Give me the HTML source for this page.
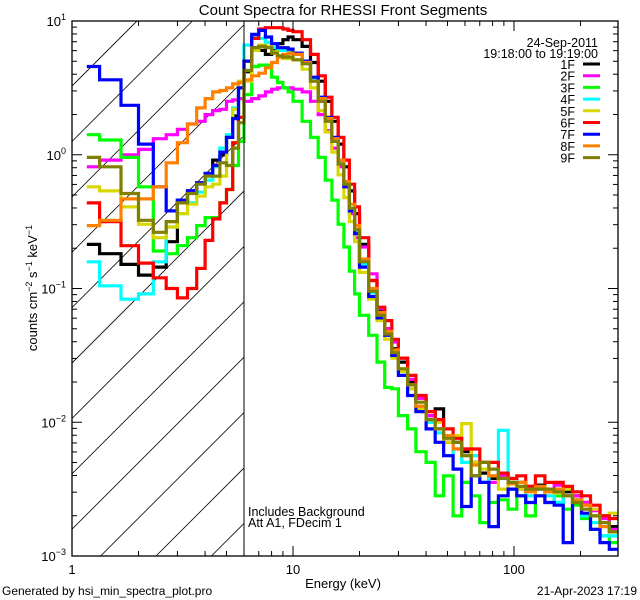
<!DOCTYPE html>
<html><head><meta charset="utf-8"><style>
html,body{margin:0;padding:0;background:#fff;}
svg{display:block;font-family:"Liberation Sans",sans-serif;}
</style></head><body>
<svg id="chart" width="640" height="600" viewBox="0 0 640 600" xmlns="http://www.w3.org/2000/svg">
<defs>
<clipPath id="hatchclip"><rect x="72" y="21" width="172" height="535"/></clipPath>
<clipPath id="plotclip"><rect x="72" y="21" width="546" height="535"/></clipPath>
</defs>
<rect width="640" height="600" fill="#fff"/>
<text x="343" y="15" font-size="15" text-anchor="middle">Count Spectra for RHESSI Front Segments</text>
<g id="hatch" clip-path="url(#hatchclip)"></g>
<g id="series" clip-path="url(#plotclip)"></g>
<line x1="244" y1="21" x2="244" y2="556" stroke="#000" stroke-width="1"/>
<rect x="72" y="21" width="546" height="535" fill="none" stroke="#000" stroke-width="1.3"/>
<g id="axes"></g>
<text x="343" y="588" font-size="13" text-anchor="middle">Energy (keV)</text>
<text transform="translate(37,288) rotate(-90)" font-size="13" text-anchor="middle">counts cm<tspan dy="-5" font-size="9">−2</tspan><tspan dy="5"> s</tspan><tspan dy="-5" font-size="9">−1</tspan><tspan dy="5"> keV</tspan><tspan dy="-5" font-size="9">−1</tspan></text>
<text x="248" y="516" font-size="12.5">Includes Background</text>
<text x="248" y="527" font-size="12.5">Att A1, FDecim 1</text>
<text x="2" y="595" font-size="12">Generated by hsi_min_spectra_plot.pro</text>
<text x="637" y="595" font-size="12" text-anchor="end">21-Apr-2023 17:19</text>
<g id="legend">
<text x="598" y="47" font-size="12.5" text-anchor="end">24-Sep-2011</text>
<text x="598" y="58" font-size="12.5" text-anchor="end">19:18:00 to 19:19:00</text>
</g>
</svg>
<script>
const energyEdges = [1.167,1.333,1.667,2,2.333,2.667,3,3.333,3.667,4,4.333,4.667,5,5.333,5.667,6,
6.5,7,7.5,8,8.5,9,9.5,10,11,12,13,14,15,16,17,18,19,20,22,24,26,28,30,
33,36,40,44,48,53,58,64,70,77,85,94,103,113,125,138,152,167,184,202,222,245,270,295];
const segmentNames = ["1F","2F","3F","4F","5F","6F","7F","8F","9F"];
const segmentColors = ["#000000","#ff00ff","#00ff00","#00ffff","#d8d800","#ff0000","#0000ff","#ff8000","#808000"];
// log10(counts) per bin
const log1F = [-.67,-.74,-.82,-.90,-.84,-.65,-.34,-.27,-.21,-.14,-.04,0,.13,.29,.50,
.62,.80,.78,.75,.78,.83,.86,.88,.86,.81,.69,.55,.40,.25,.08,-.09,-.27,-.44,-.67,-.94,-1.17,-1.30,-1.45,
-1.55,-1.70,-1.82,-1.95,-1.90,-2.15,-2.15,-2.22,-2.30,-2.38,-2.42,-2.40,-2.45,-2.45,-2.50,-2.47,-2.50,-2.50,-2.52,-2.55,-2.60,-2.66,-2.70,-2.78];
const log2F = [-.09,-.04,0,.04,.12,.15,.19,.23,.25,.30,.33,.34,.40,.41,.42,
.40,.42,.44,.47,.49,.50,.50,.50,.49,.47,.40,.30,.18,.05,-.09,-.24,-.44,-.62,-.69,-.89,-1.15,-1.30,-1.40,
-1.52,-1.68,-1.82,-1.95,-2.05,-2.10,-2.20,-2.20,-2.30,-2.30,-2.45,-2.40,-2.45,-2.50,-2.48,-2.50,-2.52,-2.47,-2.55,-2.55,-2.60,-2.66,-2.72,-2.80];
const log3F = [.15,.11,-.02,-.24,-.72,-.74,-.68,-.62,-.53,-.47,-.47,-.36,-.26,-.08,.10,
.45,.66,.67,.67,.58,.54,.50,.47,.40,.25,.13,-.02,-.19,-.34,-.52,-.69,-.87,-1.04,-1.20,-1.35,-1.55,-1.74,-1.75,
-1.95,-2.05,-2.22,-2.30,-2.55,-2.40,-2.70,-2.45,-2.55,-2.75,-2.60,-2.58,-2.65,-2.55,-2.70,-2.55,-2.60,-2.55,-2.65,-2.62,-2.72,-2.80,-2.85,-2.90];
const log4F = [-.80,-.98,-1.08,-1.04,-.80,-.54,-.44,-.36,-.28,-.19,-.09,.05,.15,.35,.50,
.82,.88,.87,.84,.80,.78,.78,.78,.76,.70,.57,.42,.27,.12,-.05,-.22,-.40,-.57,-.82,-1.03,-1.20,-1.33,-1.48,
-1.62,-1.75,-1.88,-2.00,-2.08,-2.25,-2.10,-2.30,-2.25,-2.45,-2.40,-2.06,-2.50,-2.45,-2.55,-2.50,-2.55,-2.60,-2.55,-2.58,-2.70,-2.75,-2.85,-2.85];
const log5F = [-.24,-.27,-.39,-.52,-.62,-.54,-.44,-.37,-.31,-.24,-.22,-.16,.13,.34,.55,
.55,.78,.82,.81,.77,.74,.72,.72,.71,.64,.50,.33,.17,.02,-.15,-.32,-.50,-.65,-.88,-1.08,-1.24,-1.38,-1.52,
-1.62,-1.75,-1.90,-1.98,-2.00,-2.15,-2.10,-2.01,-2.30,-2.35,-2.40,-2.50,-2.45,-2.50,-2.48,-2.55,-2.50,-2.53,-2.50,-2.58,-2.62,-2.65,-2.70,-2.68];
const log6F = [-.36,-.50,-.68,-.81,-.92,-1.0,-1.07,-1.0,-.85,-.64,-.48,-.36,-.26,.09,.28,
.70,.87,.94,.95,.95,.95,.94,.93,.92,.86,.75,.59,.43,.28,.13,-.04,-.22,-.39,-.62,-.94,-1.14,-1.24,-1.38,
-1.52,-1.65,-1.80,-1.92,-1.98,-2.05,-2.12,-2.20,-2.20,-2.30,-2.30,-2.38,-2.42,-2.40,-2.48,-2.40,-2.45,-2.45,-2.48,-2.52,-2.55,-2.62,-2.70,-2.72];
const log7F = [.66,.56,.37,.08,-.24,-.42,-.34,-.27,-.21,-.14,-.08,.02,.13,.27,.50,
.70,.90,.93,.88,.83,.80,.80,.79,.76,.70,.58,.43,.28,.13,-.04,-.24,-.42,-.59,-.84,-1.06,-1.22,-1.35,-1.50,
-1.65,-1.80,-1.92,-2.05,-2.15,-2.25,-2.35,-2.63,-2.40,-2.45,-2.78,-2.55,-2.50,-2.55,-2.60,-2.55,-2.60,-2.62,-2.90,-2.60,-2.68,-2.80,-2.90,-2.95];
const log8F = [-.53,-.49,-.33,-.33,-.24,-.06,.09,.23,.35,.42,.47,.48,.50,.53,.54,
.56,.59,.61,.65,.69,.73,.75,.76,.75,.69,.55,.42,.27,.12,-.04,-.20,-.37,-.53,-.78,-1.00,-1.18,-1.32,-1.46,
-1.60,-1.72,-1.88,-1.98,-2.05,-2.10,-2.20,-2.25,-2.32,-2.30,-2.40,-2.42,-2.46,-2.45,-2.52,-2.48,-2.52,-2.50,-2.55,-2.58,-2.62,-2.70,-2.78,-2.82];
const log9F = [-.02,-.09,-.29,-.49,-.58,-.50,-.36,-.29,-.22,-.16,-.16,-.06,-.08,.05,.24,
.63,.80,.81,.80,.76,.74,.73,.73,.71,.68,.55,.40,.25,.10,-.07,-.22,-.40,-.56,-.80,-1.02,-1.20,-1.34,-1.48,
-1.60,-1.72,-1.85,-1.98,-2.05,-2.12,-2.15,-2.25,-2.40,-2.30,-2.35,-2.42,-2.45,-2.48,-2.50,-2.50,-2.50,-2.52,-2.55,-2.60,-2.65,-2.70,-2.75,-2.82];
const seriesLogs = [log1F,log2F,log3F,log4F,log5F,log6F,log7F,log8F,log9F];
const xTickLabels = ["1","10","100"];
const yTickLabels = ["1","0","-1","-2","-3"];

const NS="http://www.w3.org/2000/svg";
const X0=72,X1=618,Y0=21,Y1=556,XDEC=221,YDEC=133.75;
function xs(e){return X0+XDEC*Math.log10(e);}
function ys(l){return Y0+(1-l)*YDEC;}
function mk(tag,attrs,parent){const el=document.createElementNS(NS,tag);for(const k in attrs)el.setAttribute(k,attrs[k]);parent.appendChild(el);return el;}

// hatch
const hatch=document.getElementById('hatch');
for(let k=0;k<12;k++){
  const c=158+55.4*k;
  const ln=mk('line',{x1:c-Y0-600,y1:Y0+600,x2:c-Y0+20,y2:Y0-20,stroke:'#000','stroke-width':0.8},hatch);
  
  
}

// series
const sg=document.getElementById('series');
seriesLogs.forEach((vals,si)=>{
  let d='M'+xs(energyEdges[0]).toFixed(1)+','+ys(vals[0]).toFixed(1);
  for(let i=0;i<vals.length;i++){
    if(i>0)d+='V'+ys(vals[i]).toFixed(1);
    d+='H'+xs(energyEdges[i+1]).toFixed(1);
  }
  const p=mk('path',{d:d,fill:'none',stroke:segmentColors[si],'stroke-width':3.2,'stroke-linejoin':'miter'},sg);
  
  
});

// axes
const ax=document.getElementById('axes');
for(let dec=0;dec<3;dec++){
  for(let m=1;m<10;m++){
    const e=Math.pow(10,dec)*m; if(e>295)break;
    const x=xs(e); const len=m===1?10:5;
    const t1=mk('line',{x1:x,y1:Y1,x2:x,y2:Y1-len,stroke:'#000','stroke-width':1},ax);
    
    
    const t2=mk('line',{x1:x,y1:Y0,x2:x,y2:Y0+len,stroke:'#000','stroke-width':1},ax);
    
    
  }
}
xTickLabels.forEach((lab,i)=>{
  const t=mk('text',{x:xs(Math.pow(10,i)),y:574,'font-size':13,'text-anchor':'middle'},ax);
  t.textContent=lab;
  
  
});
for(let p=-3;p<1;p++){
  for(let m=1;m<10;m++){
    const l=p+Math.log10(m); const y=ys(l); const len=m===1?10:5;
    const a=mk('line',{x1:X0,y1:y,x2:X0+len,y2:y,stroke:'#000','stroke-width':1},ax);
    
    
    const b=mk('line',{x1:X1,y1:y,x2:X1-len,y2:y,stroke:'#000','stroke-width':1},ax);
    
    
  }
}
yTickLabels.forEach(lab=>{
  const l=parseFloat(lab); const y=ys(l);
  const t=mk('text',{x:66,y:y+5,'font-size':13,'text-anchor':'end'},ax);
  
  
  const base=document.createElementNS(NS,'tspan');base.textContent='10';t.appendChild(base);
  const sup=document.createElementNS(NS,'tspan');sup.setAttribute('dy','-6');sup.setAttribute('font-size','9');sup.textContent=(l<0?'−'+Math.abs(l):String(l));t.appendChild(sup);
});

// legend
const lg=document.getElementById('legend');
segmentNames.forEach((nm,i)=>{
  const y=64+11.7*i;
  const t=mk('text',{x:575,y:y+5,'font-size':12.5,'text-anchor':'end'},lg);
  t.textContent=nm;
  
  
  const l=mk('line',{x1:583,y1:y,x2:600,y2:y,stroke:segmentColors[i],'stroke-width':3},lg);
  
  
});
</script>
</body></html>
